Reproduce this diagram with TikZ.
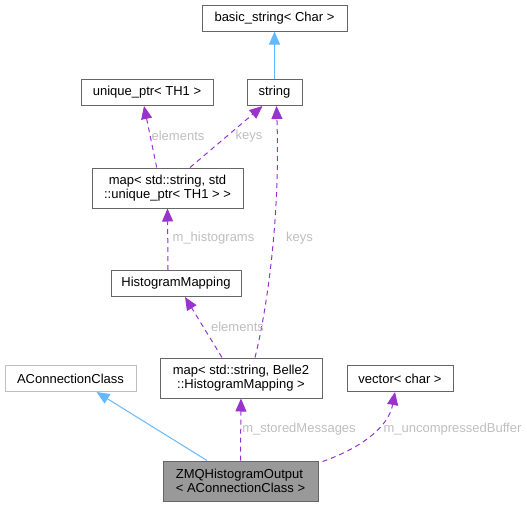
\documentclass[tikz,border=0pt]{standalone}
\usepackage{fontspec}
\setmainfont{Liberation Sans}
\usetikzlibrary{arrows.meta}
\definecolor{dep}{HTML}{9A32CD}
\definecolor{inh}{HTML}{63B8FF}
\definecolor{boxline}{HTML}{666666}
\definecolor{boxlight}{HTML}{BFBFBF}
\definecolor{lbl}{HTML}{BEBEBE}
\definecolor{cur}{HTML}{999999}
\tikzset{
  cls/.style={draw=boxline, line width=1pt, inner sep=0pt, minimum height=26pt, align=center, font=\fontsize{13}{14}\selectfont},
  cls2/.style={cls, minimum height=40pt},
  depedge/.style={draw=dep, line width=1pt, dash pattern=on 5pt off 4pt, -{Triangle[length=13pt,width=11pt]}},
  inhedge/.style={draw=inh, line width=1pt, -{Triangle[length=13pt,width=11pt]}},
  elabel/.style={text=lbl, inner sep=0pt, font=\fontsize{13}{14}\selectfont}
}
\begin{document}
\begin{tikzpicture}[x=1pt,y=-1pt]
\useasboundingbox (0,0) rectangle (527,507);
% nodes
\node[cls, minimum width=145pt] (bs) at (274.5,18) {basic\_string< Char >};
\node[cls, minimum width=55pt] (str) at (274.5,92.5) {string};
\node[cls, minimum width=132pt] (up) at (147,92.5) {unique\_ptr< TH1 >};
\node[cls2, minimum width=151pt] (mapa) at (167.5,188) {map< std::string, std\\::unique\_ptr< TH1 > >};
\node[cls, minimum width=130pt] (hm) at (176,283.5) {HistogramMapping};
\node[cls2, minimum width=162pt] (mapb) at (241,378) {map< std::string, Belle2\\::HistogramMapping >};
\node[cls, draw=boxlight, minimum width=131pt] (acc) at (70.5,378.5) {AConnectionClass};
\node[cls, minimum width=106pt] (vec) at (400,378.5) {vector< char >};
\node[cls2, fill=cur, minimum width=155pt, align=left] (zmq) at (240.5,481) {ZMQHistogramOutput\\< AConnectionClass >};
% edges
\draw[inhedge] (str.north) -- (bs.south);
\draw[depedge] ([xshift=-10.8pt]mapa.north) -- ([xshift=-3pt]up.south);
\draw[depedge] ([xshift=22.5pt]mapa.north) -- ([xshift=-12pt]str.south);
\draw[depedge] ([xshift=-8pt]hm.north) -- (mapa.south);
\draw[depedge] ([xshift=14pt]mapb.north) .. controls ([xshift=24pt,yshift=40pt]mapb.north) and ([xshift=6pt,yshift=-120pt]str.south) .. ([xshift=2pt]str.south);
\draw[depedge] ([xshift=-19pt]mapb.north) -- ([xshift=9pt]hm.south);
\draw[depedge] (zmq.north) -- (mapb.south);
\draw[inhedge] ([xshift=-33.5pt]zmq.north) -- ([xshift=26pt]acc.south);
\draw[depedge] ([xshift=4pt,yshift=-1pt]zmq.north east) .. controls ([xshift=36pt,yshift=10pt]zmq.north east) and ([xshift=-12pt,yshift=-38pt]vec.south) .. ([xshift=-5pt]vec.south);
% labels
\node[elabel] (l1) at (178,136) {elements};
\node[elabel] (l2) at (249,136) {keys};
\node[elabel] (l3) at (213.5,238) {m\_histograms};
\node[elabel] (l4) at (299.5,238) {keys};
\node[elabel] (l5) at (237.5,327) {elements};
\node[elabel] (l6) at (299,429) {m\_storedMessages};
\node[elabel] (l7) at (452.5,429) {m\_uncompressedBuffer};
\end{tikzpicture}
\end{document}
